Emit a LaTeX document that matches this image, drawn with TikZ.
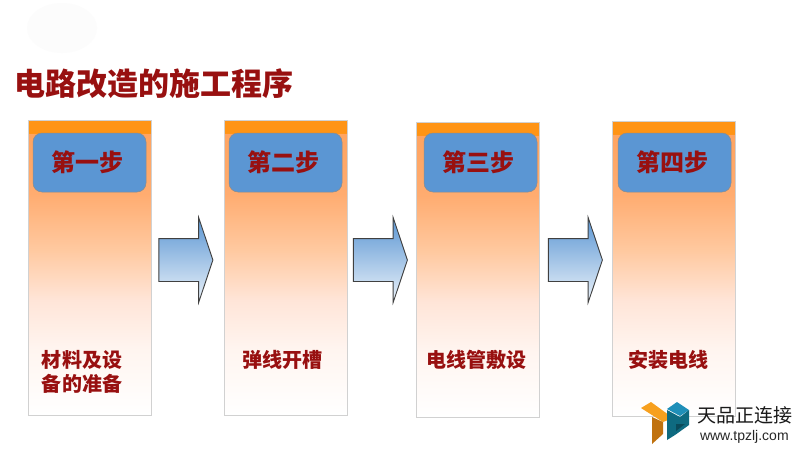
\documentclass[tikz,border=0pt]{standalone}
\usepackage{fontspec}
\setmainfont{Liberation Sans}
\newfontfamily\cjk{Noto Sans CJK SC}
\usetikzlibrary{positioning,shapes.arrows}
\definecolor{titlered}{HTML}{981010}
\definecolor{stepblue}{HTML}{5B96D3}
\definecolor{logoorange}{HTML}{F7A01E}
\definecolor{logobrown}{HTML}{C0720F}
\definecolor{logoblue}{HTML}{1F8FB8}
\definecolor{logoteal}{HTML}{0E6A80}
\definecolor{logodark}{HTML}{0A4A5A}
\definecolor{fadeA}{HTML}{FFF5F0}
\definecolor{fadeB}{HTML}{FFE5D8}
\definecolor{fadeC}{HTML}{FFC9A0}
\definecolor{fadeD}{HTML}{FFAC70}
\definecolor{fadeE}{HTML}{FFA460}
\definecolor{fadeF}{HTML}{FF9415}
\pgfdeclareverticalshading{stepfade}{100bp}{
	color(0bp)=(white);
	color(25bp)=(white);
	color(36bp)=(fadeA);
	color(44.5bp)=(fadeB);
	color(53bp)=(fadeC);
	color(62.5bp)=(fadeD);
	color(72.7bp)=(fadeE);
	color(72.8bp)=(fadeF);
	color(100bp)=(fadeF)}
\begin{document}
\begin{tikzpicture}[x=1pt,y=-1pt,
	every node/.style={inner sep=0pt,outer sep=0pt},
	column/.style={draw=black!18,line width=.8pt,minimum width=123pt,minimum height=295pt,anchor=north west,shading=stepfade},
	header/.style={draw=black!45,line width=.5pt,fill=stepblue,rounded corners=9pt,minimum width=113pt,minimum height=59pt,anchor=north west,
			font=\cjk\bfseries\fontsize{24}{24}\selectfont,text=titlered,execute at end node=\hspace{5pt}},
	blockarrow/.style={single arrow,draw=black!75,line width=.9pt,top color=stepblue,bottom color=stepblue!12!white,
			inner xsep=0pt,inner ysep=21pt,minimum height=54pt,single arrow head extend=21pt,single arrow tip angle=143},
	caption/.style={font=\cjk\bfseries\fontsize{20}{24}\selectfont,text=titlered,align=center,text width=104pt}]
	\useasboundingbox (0,0) rectangle (800,451);
	\fill[white] (0,0) rectangle (800,451);
	\fill[black!1] (62,28) ellipse (35 and 25);
	\node[anchor=west,font=\cjk\bfseries\fontsize{31}{31}\selectfont,text=titlered] (title) at (14,84) {电路改造的施工程序};
	% columns
	\node[column] (col1) at (28,120) {};
	\node[column] (col2) at (224,120) {};
	\node[column] (col3) at (416.5,122) {};
	\node[column] (col4) at (612,121) {};
	\node[header] (head1) at (33,133) {第一步};
	\node[header] (head2) at (229,133) {第二步};
	\node[header] (head3) at (424,133) {第三步};
	\node[header] (head4) at (618,133) {第四步};
	\node[caption] (text1) at (82,372) {材料及设\\备的准备};
	\node[caption] (text2) at (282.5,360) {弹线开槽};
	\node[caption] (text3) at (476,360) {电线管敷设};
	\node[caption] (text4) at (668,360) {安装电线};
	% arrows
	\node[blockarrow] (arrow1) at (182.3,260) {};
	\node[blockarrow] (arrow2) at (376.8,260) {};
	\node[blockarrow] (arrow3) at (571.8,260) {};
	% logo
	\fill[logoorange] (641,408) -- (651,402) -- (673,418) -- (663,422) -- (652,415) -- cycle;
	\fill[logobrown] (652,417) -- (663,422) -- (663,434) -- (652,444) -- cycle;
	\fill[logoblue] (667,409) -- (677,402) -- (689,410) -- (680,416) -- cycle;
	\fill[logoteal] (667,410) -- (680,417) -- (689,410) -- (689,425) -- (675,435) -- (667,440) -- cycle;
	\fill[logodark] (676,424) -- (685,424) -- (676,431) -- cycle;
	\node[anchor=west,font=\cjk\fontsize{19}{19}\selectfont,text=black!90] (brand) at (697,415) {天品正连接};
	\node[anchor=west,font=\fontsize{14}{14}\selectfont,text=black!85] (site) at (700,437) {www.tpzlj.com};
\end{tikzpicture}
\end{document}
